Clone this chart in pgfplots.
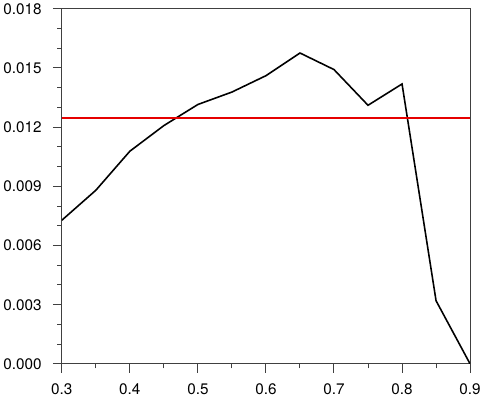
\documentclass[border=0pt]{standalone}
\usepackage{fontspec}
\setmainfont{TeX Gyre Heros}
\usepackage{pgfplots}
\pgfplotsset{compat=1.18}
\definecolor{refred}{RGB}{230,0,0}
\begin{document}
\begin{tikzpicture}
  \begin{axis}[
    scale only axis,
    width=414pt, height=360pt,
    xmin=0.3, xmax=0.9,
    ymin=0, ymax=0.018,
    xtick={0.3,0.4,...,0.9},
    ytick={0,0.003,...,0.018},
    minor x tick num=1,
    minor y tick num=2,
    tick align=outside,
    xtick pos=bottom, ytick pos=left,
    major tick length=9pt,
    minor tick length=4.5pt,
    axis line style={black!75, line width=1pt},
    every tick/.append style={black!75, line width=1pt},
    tick label style={font=\fontsize{15.5}{18}\selectfont},
    /pgf/number format/assume math mode=true,
    scaled y ticks=false,
    scaled x ticks=false,
    yticklabel style={/pgf/number format/fixed, /pgf/number format/fixed zerofill, /pgf/number format/precision=3},
    xticklabel style={/pgf/number format/fixed, /pgf/number format/fixed zerofill, /pgf/number format/precision=1},
    xticklabel shift=8pt,
    yticklabel shift=8pt,
  ]
    \addplot[black, line width=1.6pt] coordinates {
      (0.30,0.00728) (0.35,0.00880) (0.40,0.01078) (0.45,0.01208)
      (0.50,0.01315) (0.55,0.01378) (0.60,0.01461) (0.65,0.01576)
      (0.70,0.01492) (0.75,0.01311) (0.80,0.01419) (0.85,0.00320)
      (0.90,0.00000)
    };
    % threshold
    \addplot[draw=refred, line width=1.6pt] coordinates {(0.3,0.01247) (0.9,0.01247)};
  \end{axis}
\end{tikzpicture}
\end{document}
